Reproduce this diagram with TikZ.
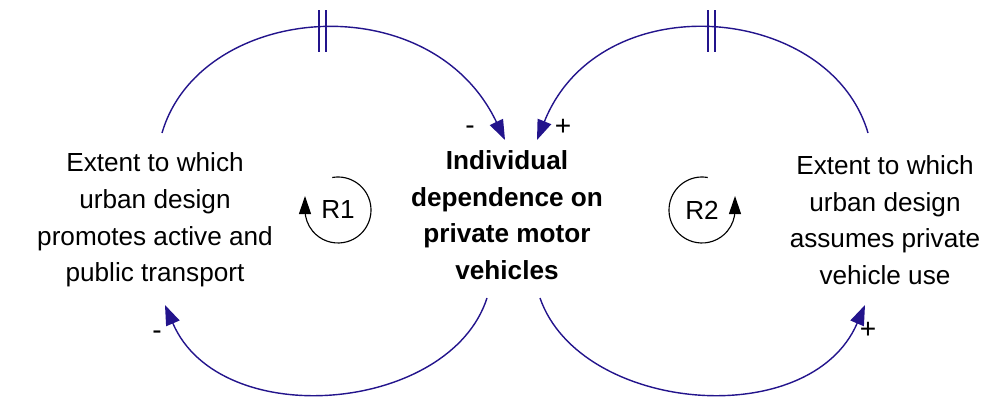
\documentclass[tikz,border=0pt]{standalone}
\usepackage{fontspec}
\setmainfont{Liberation Sans}
\usetikzlibrary{arrows.meta}
\definecolor{arc}{RGB}{35,20,140}
\begin{document}
\begin{tikzpicture}[x=0.025cm,y=0.025cm,
  lbl/.style={align=center,font=\fontsize{18.6}{26}\selectfont},
  link/.style={draw=arc,line width=1pt,-{Triangle[length=0.5cm,width=0.36cm]}},
  pol/.style={font=\fontsize{20}{22}\selectfont},
  loopl/.style={font=\fontsize{18.6}{20}\selectfont}]
\useasboundingbox (0,0) rectangle (1000,408);
\node[lbl] (L) at (155,188) {Extent to which\\urban design\\promotes active and\\public transport};
\node[lbl,font=\bfseries\fontsize{18.6}{26}\selectfont] (C) at (507,193) {Individual\\dependence on\\private motor\\vehicles};
\node[lbl] (R) at (885,188) {Extent to which\\urban design\\assumes private\\vehicle use};
\coordinate (a1) at (162,275); \coordinate (a2) at (505,268);
\coordinate (b1) at (868,275); \coordinate (b2) at (537,268);
\coordinate (c1) at (487,110); \coordinate (c2) at (165,103);
\coordinate (d1) at (540,110); \coordinate (d2) at (865,103);
\draw[link] (a1) .. controls (200,405) and (430,425) .. (a2);
\draw[link] (b1) .. controls (830,405) and (600,425) .. (b2);
\draw[link] (c1) .. controls (450,-5) and (220,-25) .. (c2);
\draw[link] (d1) .. controls (580,-5) and (810,-25) .. (d2);
\draw[arc,line width=0.8pt] (319,356) -- (319,398) (326,356) -- (326,398);
\draw[arc,line width=0.8pt] (708,356) -- (708,398) (715,356) -- (715,398);
\node[pol] (m1) at (470,278) {-};
\node[pol] (p1) at (563,281) {+};
\node[pol] (m2) at (157,73) {-};
\node[pol] (p2) at (868,78) {+};
\node[loopl] (R1) at (338,198) {R1};
\node[loopl] (R2) at (702,198) {R2};
\draw[line width=0.8pt,-{Triangle[length=0.45cm,width=0.3cm]}] (R1.center) ++(100:33) arc (100:-180:33) -- ++(0,14);
\draw[line width=0.8pt,-{Triangle[length=0.45cm,width=0.3cm]}] (R2.center) ++(80:33) arc (80:360:33) -- ++(0,14);
\end{tikzpicture}
\end{document}
